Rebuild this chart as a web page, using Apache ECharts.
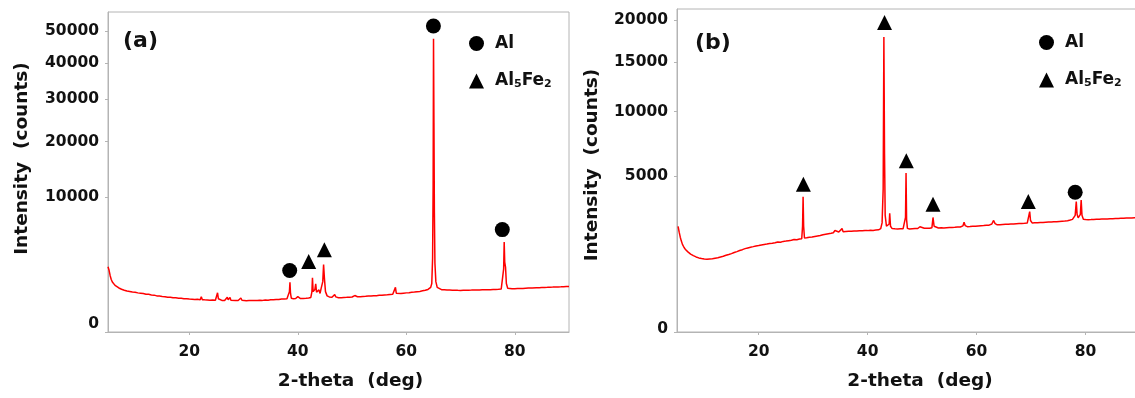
<!DOCTYPE html>
<html>
<head>
<meta charset="utf-8">
<script src="https://cdn.jsdelivr.net/npm/echarts@6/dist/echarts.min.js"></script>
<style>
  html, body { margin: 0; padding: 0; background: #fff; }
  #main { width: 1135px; height: 398px; }
</style>
</head>
<body>
<div id="main"></div>
<script>
// XRD scans, [2-theta (deg), intensity (counts)]
const scanA = [
  [5.0, 2350], [5.2, 2100], [5.4, 1750], [5.6, 1520], [5.8, 1380], [6.0, 1290], [6.3, 1200], [6.6, 1130],
  [7.0, 1070], [7.5, 1010], [8.0, 965], [8.5, 930], [9.0, 905], [9.5, 880], [10.0, 870], [10.5, 845],
  [11.0, 830], [11.5, 815], [12.0, 790], [12.5, 785], [13.0, 760], [13.5, 750], [14.0, 720], [14.5, 715],
  [15.0, 700], [15.5, 690], [16.0, 670], [16.5, 668], [17.0, 650], [17.5, 645], [18.0, 630], [18.5, 628],
  [19.0, 612], [19.5, 610], [20.0, 600], [20.5, 596], [21.0, 585], [21.5, 588], [22.0, 575], [22.2, 690],
  [22.4, 578], [22.8, 570], [23.3, 566], [23.8, 560], [24.3, 562], [24.8, 556], [25.05, 600], [25.2, 850],
  [25.35, 610], [25.6, 552], [26.0, 550], [26.5, 548], [26.8, 560], [27.0, 670], [27.15, 575], [27.35, 570],
  [27.5, 660], [27.65, 560], [28.0, 546], [28.5, 544], [29.0, 548], [29.3, 560], [29.5, 640], [29.7, 555],
  [30.0, 545], [30.5, 543], [31.0, 548], [31.5, 545], [32.0, 550], [32.5, 548], [33.0, 555], [33.5, 552],
  [34.0, 565], [34.5, 560], [35.0, 572], [35.5, 570], [36.0, 585], [36.5, 582], [37.0, 600], [37.5, 598],
  [38.0, 610], [38.3, 625], [38.45, 900], [38.55, 1370], [38.65, 820], [38.8, 630], [39.2, 612], [39.6, 620],
  [39.9, 650], [40.0, 690], [40.15, 640], [40.5, 618], [41.0, 620], [41.5, 628], [42.0, 640], [42.4, 660],
  [42.6, 900], [42.7, 1620], [42.82, 900], [43.0, 820], [43.15, 1000], [43.3, 1280], [43.45, 880], [43.7, 850],
  [43.9, 980], [44.1, 820], [44.3, 1050], [44.45, 1100], [44.6, 1400], [44.75, 2520], [44.9, 1600], [45.1, 900],
  [45.4, 720], [45.8, 680], [46.3, 665], [46.6, 680], [46.8, 775], [47.0, 680], [47.5, 650], [48.0, 652],
  [48.5, 660], [49.0, 662], [49.5, 670], [50.0, 675], [50.3, 700], [50.5, 734], [50.7, 700], [51.0, 685],
  [51.5, 690], [52.0, 700], [52.5, 705], [53.0, 712], [53.5, 715], [54.0, 725], [54.5, 730], [55.0, 745],
  [55.5, 748], [56.0, 760], [56.5, 768], [57.0, 780], [57.5, 790], [57.85, 820], [58.0, 1100], [58.15, 830],
  [58.5, 805], [59.0, 815], [59.5, 830], [60.0, 845], [60.5, 855], [61.0, 870], [61.5, 878], [62.0, 895],
  [62.5, 910], [63.0, 935], [63.5, 960], [64.0, 1000], [64.3, 1040], [64.5, 1100], [64.7, 1300], [64.85, 3000],
  [64.95, 12000], [65.02, 47500], [65.1, 24000], [65.18, 7800], [65.28, 2600], [65.45, 1400], [65.7, 1100], [66.0, 1010],
  [66.5, 990], [67.0, 985], [67.5, 975], [68.0, 970], [68.5, 965], [69.0, 962], [69.5, 958], [70.0, 955],
  [70.5, 960], [71.0, 958], [71.5, 965], [72.0, 968], [72.5, 972], [73.0, 970], [73.5, 978], [74.0, 982],
  [74.5, 985], [75.0, 990], [75.5, 988], [76.0, 995], [76.5, 1000], [77.0, 1005], [77.5, 1015], [77.8, 1080],
  [77.95, 2200], [78.05, 4470], [78.15, 2700], [78.3, 2300], [78.45, 1300], [78.7, 1060], [79.0, 1030], [79.5, 1030],
  [80.0, 1035], [80.5, 1040], [81.0, 1045], [81.5, 1050], [82.0, 1060], [82.5, 1065], [82.8, 1090], [83.2, 1070],
  [83.5, 1075], [84.0, 1080], [84.5, 1085], [85.0, 1090], [85.5, 1095], [86.0, 1100], [86.5, 1108], [87.0, 1112],
  [87.5, 1118], [88.0, 1122], [88.5, 1128], [89.0, 1135], [89.5, 1140], [90.0, 1145]
];

const scanB = [
  [5.2, 2300], [5.4, 2050], [5.6, 1850], [5.8, 1700], [6.0, 1580], [6.3, 1470], [6.6, 1390], [7.0, 1320],
  [7.5, 1250], [8.0, 1200], [8.5, 1160], [9.0, 1130], [9.5, 1110], [10.0, 1095], [10.5, 1090], [11.0, 1100],
  [11.5, 1105], [12.0, 1120], [12.5, 1135], [13.0, 1160], [13.5, 1180], [14.0, 1210], [14.5, 1235], [15.0, 1265],
  [15.5, 1300], [16.0, 1330], [16.5, 1365], [17.0, 1395], [17.5, 1430], [18.0, 1455], [18.5, 1480], [19.0, 1500],
  [19.5, 1525], [20.0, 1540], [20.5, 1560], [21.0, 1575], [21.5, 1590], [22.0, 1610], [22.5, 1620], [23.0, 1640],
  [23.5, 1670], [24.0, 1660], [24.5, 1690], [25.0, 1700], [25.5, 1715], [26.0, 1730], [26.5, 1760], [27.0, 1750],
  [27.5, 1780], [27.9, 1790], [28.05, 2300], [28.15, 3770], [28.25, 2300], [28.4, 1820], [28.8, 1830], [29.3, 1850],
  [29.8, 1860], [30.3, 1880], [30.8, 1900], [31.3, 1920], [31.8, 1950], [32.3, 1970], [32.8, 1990], [33.3, 2010],
  [33.7, 2030], [34.0, 2120], [34.3, 2040], [34.7, 2060], [35.0, 2050], [35.3, 2200], [35.5, 2070], [36.0, 2080],
  [36.5, 2090], [37.0, 2085], [37.5, 2100], [38.0, 2095], [38.5, 2110], [39.0, 2105], [39.5, 2120], [40.0, 2115],
  [40.5, 2130], [41.0, 2125], [41.5, 2140], [42.0, 2150], [42.4, 2200], [42.65, 2450], [42.85, 4200], [42.98, 17900],
  [43.1, 6500], [43.22, 2800], [43.45, 2300], [43.7, 2250], [43.95, 2400], [44.05, 2900], [44.2, 2300], [44.5, 2200],
  [45.0, 2190], [45.5, 2185], [46.0, 2195], [46.5, 2190], [46.85, 2200], [46.95, 2700], [47.05, 5200], [47.15, 2600],
  [47.3, 2210], [47.7, 2180], [48.2, 2195], [48.7, 2200], [49.2, 2205], [49.6, 2280], [49.9, 2210], [50.4, 2215],
  [50.9, 2220], [51.4, 2215], [51.8, 2240], [52.0, 2700], [52.2, 2300], [52.5, 2230], [53.0, 2225], [53.5, 2235],
  [54.0, 2230], [54.5, 2240], [55.0, 2245], [55.5, 2250], [56.0, 2255], [56.5, 2265], [57.0, 2270], [57.5, 2320],
  [57.7, 2480], [57.9, 2330], [58.3, 2285], [58.8, 2290], [59.3, 2300], [59.8, 2305], [60.3, 2315], [60.8, 2325],
  [61.3, 2330], [61.8, 2340], [62.3, 2350], [62.8, 2400], [63.1, 2560], [63.4, 2420], [63.8, 2365], [64.3, 2370],
  [64.8, 2380], [65.3, 2385], [65.8, 2390], [66.3, 2400], [66.8, 2405], [67.3, 2415], [67.8, 2420], [68.3, 2425],
  [68.8, 2430], [69.3, 2440], [69.6, 2520], [69.75, 2980], [69.9, 2560], [70.2, 2450], [70.7, 2455], [71.2, 2460],
  [71.7, 2465], [72.2, 2470], [72.7, 2480], [73.2, 2485], [73.7, 2490], [74.2, 2500], [74.7, 2505], [75.2, 2515],
  [75.7, 2525], [76.2, 2535], [76.7, 2550], [77.2, 2580], [77.6, 2610], [77.9, 2660], [78.1, 2800], [78.3, 3500],
  [78.45, 2850], [78.65, 2680], [78.85, 2700], [79.05, 2850], [79.2, 3590], [79.35, 2800], [79.6, 2620], [80.0, 2600],
  [80.5, 2595], [81.0, 2600], [81.5, 2610], [82.0, 2615], [82.5, 2620], [83.0, 2625], [83.5, 2630], [84.0, 2630],
  [84.5, 2640], [85.0, 2645], [85.5, 2650], [86.0, 2655], [86.5, 2660], [87.0, 2660], [87.5, 2670], [88.0, 2675],
  [88.5, 2680], [89.0, 2685], [89.5, 2690], [90.0, 2695]
];

// phase markers placed above the peaks, [2-theta, counts]
const alMarksA = [[38.5, 2090], [65.0, 51670], [77.7, 5790]];
const fe2MarksA = [[42.0, 2750], [44.9, 3745]];
const alMarksB = [[78.1, 4020]];
const fe2MarksB = [[28.2, 4500], [43.1, 19700], [47.1, 6040], [52.0, 3360], [69.5, 3500]];

const xTicks = [20, 40, 60, 80];
const yTicksA = [0, 10000, 20000, 30000, 40000, 50000];
const yTicksB = [0, 5000, 10000, 15000, 20000];

// intensity axis is square-root scaled
const sq = pts => pts.map(p => [p[0], Math.sqrt(p[1])]);

const FONT = 'DejaVu Sans';
const axisGrey = '#b4b4b4';

function xAxisFor(gridIndex, namePad) {
  return {
    type: 'value', gridIndex, min: 5, max: 90,
    name: '2-theta  (deg)', nameLocation: 'middle', nameGap: 40,
    nameTextStyle: { fontFamily: FONT, fontWeight: 'bold', fontSize: 18.5, color: '#111', padding: [0, 0, 0, namePad] },
    axisLine: { lineStyle: { color: axisGrey } },
    axisTick: { length: 3, customValues: xTicks, lineStyle: { color: axisGrey } },
    axisLabel: { customValues: xTicks, margin: 12, fontFamily: FONT, fontWeight: 'bold', fontSize: 15.5, color: '#111' },
    splitLine: { show: false }
  };
}

function yAxisFor(gridIndex, ticks, topCounts, zeroPad, nameGap, namePad) {
  const vals = ticks.map(Math.sqrt);
  return {
    type: 'value', gridIndex, min: 0, max: Math.sqrt(topCounts),
    name: 'Intensity  (counts)', nameLocation: 'middle', nameGap,
    nameTextStyle: { fontFamily: FONT, fontWeight: 'bold', fontSize: 18.5, color: '#111', padding: [0, 0, 0, namePad] },
    axisLine: { show: true, lineStyle: { color: axisGrey } },
    axisTick: { length: 3, customValues: vals, lineStyle: { color: axisGrey } },
    axisLabel: {
      customValues: vals, margin: 9, fontFamily: FONT, fontWeight: 'bold', fontSize: 15.5, color: '#111',
      formatter: v => {
        const n = Math.round(v * v);
        return n === 0 ? '{z|0}' : String(n);
      },
      rich: { z: { fontFamily: FONT, fontWeight: 'bold', fontSize: 15.5, color: '#111', padding: [0, 0, zeroPad, 0] } }
    },
    splitLine: { show: false }
  };
}

const legendRich = {
  m: { fontFamily: FONT, fontWeight: 'bold', fontSize: 17, color: '#111', lineHeight: 20 },
  p: { fontFamily: FONT, fontWeight: 'bold', fontSize: 17, color: '#111', lineHeight: 20, padding: [0, 0, 0, 6] },
  s: { fontFamily: FONT, fontWeight: 'bold', fontSize: 11, color: '#111', lineHeight: 20, padding: [7, 0, 0, 0] }
};
const legendLabel = name => name === 'Al' ? '{p|Al}' : '{p|Al}{s|5}{m|Fe}{s|2}';

function legendFor(name, icon, left, top) {
  return {
    data: [{ name, icon }], left, top, orient: 'vertical', selectedMode: false,
    itemWidth: 15, itemHeight: 15, formatter: legendLabel,
    textStyle: { rich: legendRich },
    itemStyle: { color: '#000' }
  };
}

function markSeries(name, symbol, xi, pts) {
  return {
    type: 'scatter', name, xAxisIndex: xi, yAxisIndex: xi, data: sq(pts),
    symbol, symbolSize: 15, itemStyle: { color: '#000', opacity: 1 }, z: 5, silent: true
  };
}

const chart = echarts.init(document.getElementById('main'));
chart.setOption({
  animation: false,
  backgroundColor: '#fff',
  grid: [
    { left: 108, right: 566, top: 12, bottom: 66, show: true, borderColor: axisGrey, borderWidth: 1,
      outerBoundsMode: 'none' },
    { left: 677, right: -5, top: 9, bottom: 66, show: true, borderColor: axisGrey, borderWidth: 1,
      outerBoundsMode: 'none' }
  ],
  xAxis: [xAxisFor(0, 24), xAxisFor(1, 23)],
  yAxis: [
    yAxisFor(0, yTicksA, 56520, 16, 76, 27),
    yAxisFor(1, yTicksB, 21470, 6, 75, 11)
  ],
  legend: [
    legendFor('Al', 'circle', 464, 30),
    legendFor('Al5Fe2', 'triangle', 464, 67),
    legendFor('Al', 'circle', 1034, 29),
    legendFor('Al5Fe2', 'triangle', 1034, 66)
  ],
  graphic: [
    { type: 'text', left: 123, top: 30, style: { text: '(a)', font: 'bold 22px "DejaVu Sans"', fill: '#111' } },
    { type: 'text', left: 695, top: 32, style: { text: '(b)', font: 'bold 22px "DejaVu Sans"', fill: '#111' } }
  ],
  series: [
    { type: 'line', name: 'scan a', xAxisIndex: 0, yAxisIndex: 0, data: sq(scanA), showSymbol: false,
      lineStyle: { color: '#ff0000', width: 1.5 }, silent: true },
    { type: 'line', name: 'scan b', xAxisIndex: 1, yAxisIndex: 1, data: sq(scanB), showSymbol: false,
      lineStyle: { color: '#ff0000', width: 1.5 }, silent: true },
    markSeries('Al', 'circle', 0, alMarksA),
    markSeries('Al5Fe2', 'triangle', 0, fe2MarksA),
    markSeries('Al', 'circle', 1, alMarksB),
    markSeries('Al5Fe2', 'triangle', 1, fe2MarksB)
  ]
});
</script>
</body>
</html>
